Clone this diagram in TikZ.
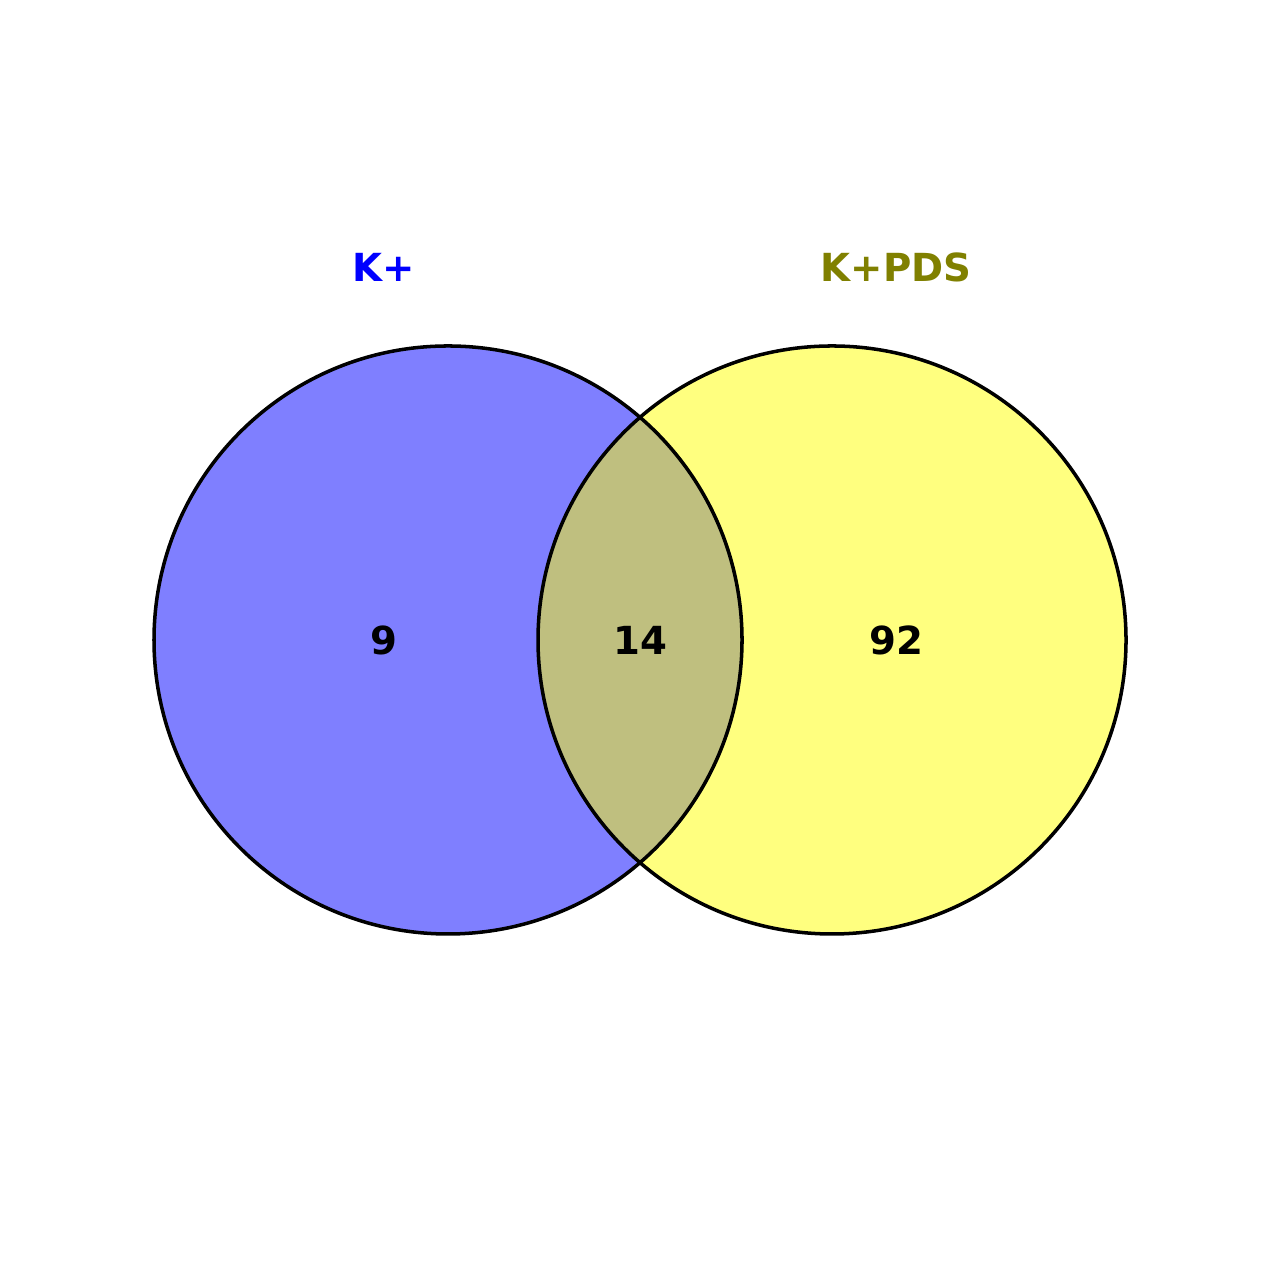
\documentclass[tikz,border=0pt]{standalone}
\usepackage{fontspec}
\setmainfont{DejaVu Sans}
\usepackage{tikz}
\definecolor{setblue}{RGB}{0,0,255}
\definecolor{setolive}{RGB}{128,128,0}
\definecolor{setyellow}{RGB}{255,255,0}
\tikzset{
  ring/.style={draw=black,line width=1pt},
  count/.style={font=\fontsize{11}{14}\selectfont\bfseries,text=black},
  setname/.style={font=\fontsize{11}{14}\selectfont\bfseries}
}

\begin{document}
\begin{tikzpicture}[scale=1]
\useasboundingbox (0,0) rectangle (12.8,12.8);
\coordinate (L) at (4.48,6.4);
\coordinate (R) at (8.32,6.4);
\fill[setblue,fill opacity=0.5] (L) circle [radius=2.94];
\fill[setyellow,fill opacity=0.5] (R) circle [radius=2.94];
\draw[ring] (L) circle [radius=2.94];
\draw[ring] (R) circle [radius=2.94];
\node[setname,text=setblue] (nameK) at (3.84,10.13) {K+};
\node[setname,text=setolive] (namePDS) at (8.96,10.13) {K+PDS};
\node[count] (onlyK) at (3.84,6.4) {9};
\node[count] (both) at (6.4,6.4) {14};
\node[count] (onlyPDS) at (8.96,6.4) {92};
\end{tikzpicture}
\end{document}
